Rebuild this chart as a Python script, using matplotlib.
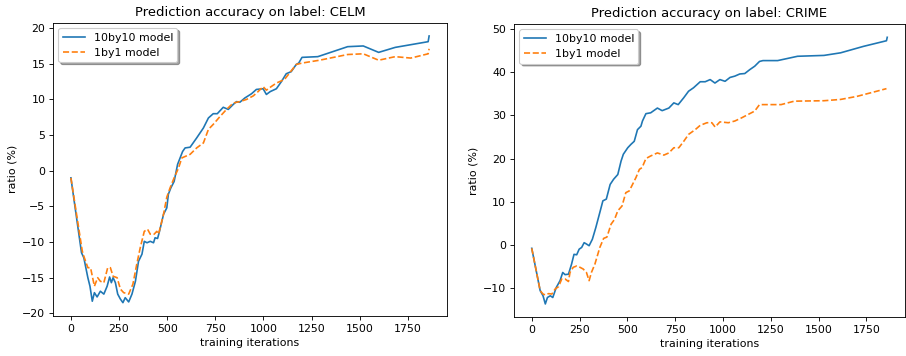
import matplotlib
matplotlib.use("Agg")
import matplotlib.pyplot as plt

# CELM panel
celm_x_10 = [0, 55, 67, 88, 99, 111, 122, 136, 153, 171, 188, 201, 210, 219, 231, 243, 257, 270,
             282, 300, 317, 335, 351, 369, 381, 395, 412, 429, 437, 450, 460, 481, 498, 506, 519,
             536, 554, 567, 580, 593, 619, 653, 688, 714, 739, 760, 791, 817, 843, 860, 877, 903,
             938, 963, 998, 1015, 1035, 1067, 1093, 1118, 1144, 1170, 1183, 1200, 1282, 1437,
             1518, 1598, 1684, 1855, 1860]
celm_y_10 = [-1.0, -11.5, -12.2, -15.0, -16.2, -18.3, -17.1, -17.7, -16.9, -17.3, -16.2, -14.9,
             -15.7, -15.0, -15.7, -17.3, -18.0, -18.5, -17.8, -18.4, -17.3, -15.5, -12.7, -11.7,
             -9.9, -10.1, -9.9, -10.1, -9.4, -9.5, -8.5, -6.1, -5.2, -3.3, -2.4, -1.5, 0.9, 1.8,
             2.7, 3.2, 3.3, 4.6, 6.0, 7.4, 8.0, 8.0, 8.9, 8.6, 9.3, 9.7, 9.6, 10.2, 10.8, 11.4,
             11.5, 10.7, 11.1, 11.5, 12.5, 13.6, 13.9, 14.9, 15.1, 15.9, 16.0, 17.4, 17.5, 16.6,
             17.3, 18.1, 18.9]
celm_x_1 = [0, 58, 62, 88, 102, 122, 139, 153, 171, 191, 205, 219, 240, 257, 274, 300, 322, 342,
            360, 381, 398, 412, 432, 446, 455, 481, 498, 515, 536, 559, 576, 593, 619, 653, 688,
            714, 739, 774, 808, 843, 877, 912, 947, 972, 998, 1015, 1040, 1067, 1109, 1135, 1170,
            1200, 1291, 1437, 1518, 1598, 1684, 1765, 1855, 1860]
celm_y_1 = [-1.0, -11.1, -11.6, -13.6, -13.6, -16.2, -15.0, -15.5, -15.7, -13.6, -13.6, -14.8,
            -15.0, -16.6, -17.1, -17.3, -15.9, -13.1, -10.8, -8.5, -8.2, -8.9, -8.9, -8.5, -8.9,
            -6.1, -3.7, -2.4, -1.0, 0.4, 1.8, 2.0, 2.3, 3.2, 3.9, 5.8, 6.5, 7.6, 8.6, 9.5, 9.7,
            10.0, 10.5, 11.1, 11.8, 11.3, 11.8, 12.3, 12.8, 13.7, 14.9, 15.1, 15.5, 16.3, 16.4,
            15.5, 16.0, 15.8, 16.4, 17.1]

# CRIME panel
crime_x_10 = [0, 44, 59, 71, 82, 97, 110, 128, 148, 162, 174, 192, 208, 221, 235, 248, 261, 274,
              286, 300, 317, 335, 356, 372, 390, 410, 428, 450, 467, 479, 502, 519, 536, 553, 571,
              579, 597, 622, 657, 682, 717, 743, 766, 795, 820, 846, 881, 907, 933, 958, 984,
              1011, 1037, 1062, 1088, 1114, 1140, 1166, 1191, 1209, 1286, 1390, 1528, 1615, 1735,
              1855, 1859]
crime_y_10 = [-0.8, -10.6, -11.8, -13.7, -12.2, -11.8, -12.2, -9.9, -8.3, -6.4, -6.9, -6.8, -4.5,
              -2.2, -2.3, -1.0, -0.6, 0.5, 0.2, -0.2, 1.3, 4.0, 7.5, 10.2, 10.6, 14.0, 15.2, 16.3,
              19.4, 21.0, 22.5, 23.3, 24.0, 26.7, 27.5, 28.7, 30.4, 30.6, 31.7, 31.1, 31.7, 32.9,
              32.5, 34.1, 35.6, 36.4, 37.8, 37.8, 38.3, 37.5, 38.3, 37.9, 38.8, 39.1, 39.6, 39.7,
              40.6, 41.4, 42.5, 42.7, 42.7, 43.7, 43.9, 44.5, 46.0, 47.3, 48.1]
crime_x_1 = [0, 44, 59, 71, 88, 105, 123, 140, 157, 174, 192, 200, 217, 235, 252, 269, 286, 300,
             312, 330, 356, 376, 393, 415, 433, 450, 472, 492, 510, 527, 545, 563, 577, 597, 622,
             657, 691, 717, 743, 769, 795, 820, 855, 881, 916, 942, 959, 984, 1028, 1062, 1096,
             1131, 1166, 1191, 1217, 1304, 1373, 1528, 1615, 1700, 1787, 1855]
crime_y_1 = [-0.8, -10.6, -11.4, -11.6, -11.3, -11.4, -10.2, -9.7, -7.9, -7.9, -8.5, -6.4, -5.2,
             -4.9, -5.2, -5.6, -6.4, -8.3, -6.4, -4.5, -0.6, 1.5, 1.8, 4.8, 5.9, 7.9, 9.0, 12.1,
             12.5, 14.0, 15.6, 17.5, 17.9, 20.0, 20.6, 21.3, 20.8, 21.3, 22.5, 22.5, 24.0, 25.6,
             26.7, 27.7, 28.3, 28.3, 27.3, 28.5, 28.3, 28.7, 29.4, 30.2, 31.0, 32.5, 32.5, 32.5,
             33.3, 33.4, 33.7, 34.4, 35.4, 36.2]

dpi = 79
fig = plt.figure(figsize=(906 / dpi, 356 / dpi), dpi=dpi)
ax1 = fig.add_axes([0.0585, 0.1124, 0.4349, 0.8240])
ax2 = fig.add_axes([0.5673, 0.1087, 0.4316, 0.8240])

ax1.plot(celm_x_10, celm_y_10, label="10by10 model")
ax1.plot(celm_x_1, celm_y_1, "--", label="1by1 model")
ax1.set_title("Prediction accuracy on label: CELM")

ax2.plot(crime_x_10, crime_y_10, label="10by10 model")
ax2.plot(crime_x_1, crime_y_1, "--", label="1by1 model")
ax2.set_title("Prediction accuracy on label: CRIME")

for ax in (ax1, ax2):
    ax.set_xlabel("training iterations")
    ax.set_ylabel("ratio (%)")
    ax.set_xticks([0, 250, 500, 750, 1000, 1250, 1500, 1750])
    ax.legend(loc="upper left", shadow=True)

ax1.set_yticks([-20, -15, -10, -5, 0, 5, 10, 15, 20])
ax2.set_yticks([-10, 0, 10, 20, 30, 40, 50])

fig.savefig("out.png", dpi=dpi)
